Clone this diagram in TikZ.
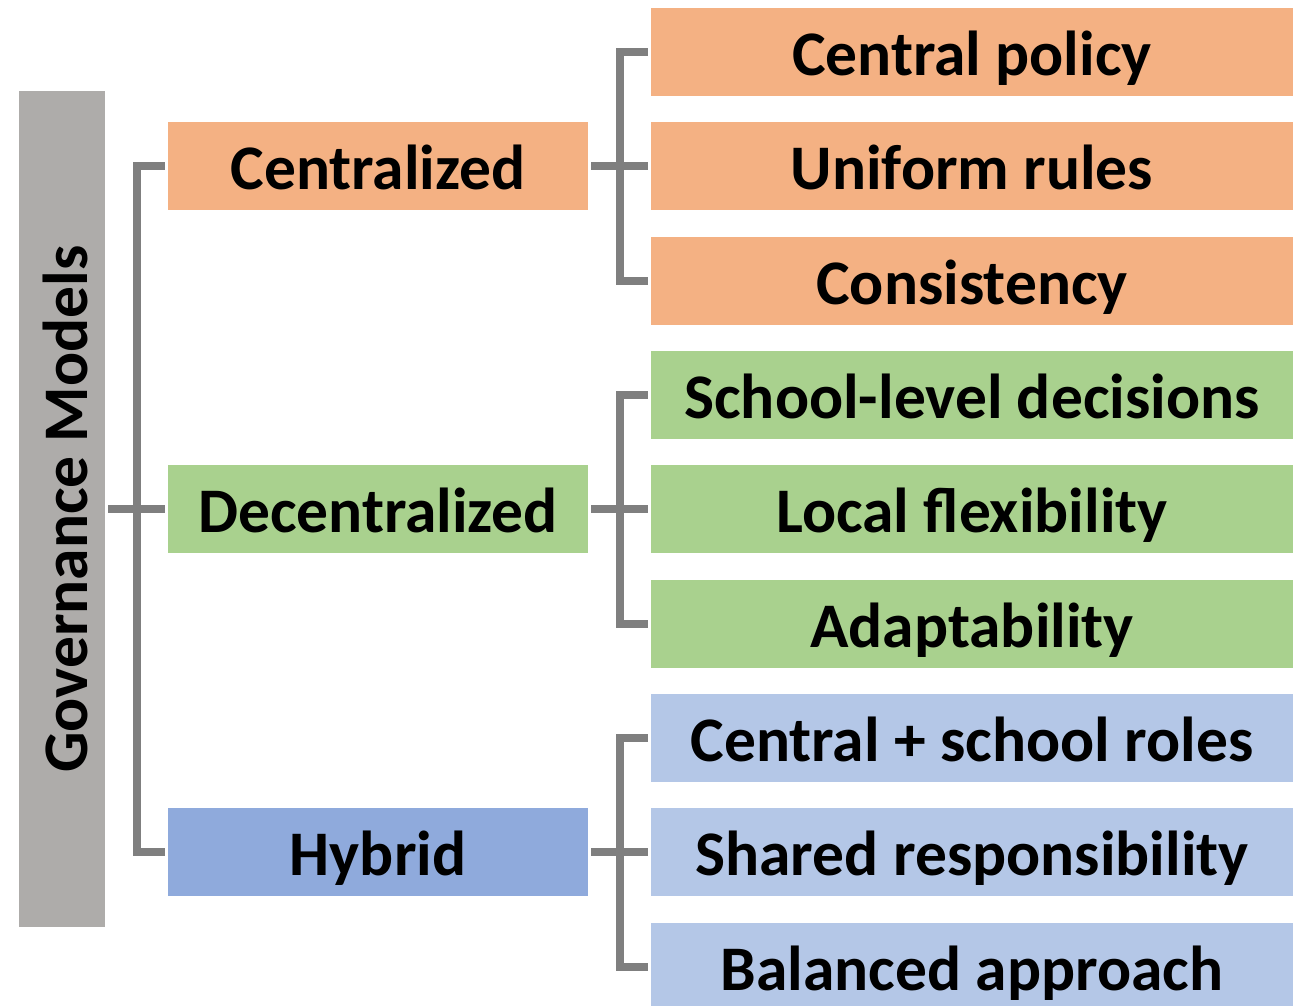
\documentclass[tikz,border=0pt]{standalone}
\usepackage{fontspec}
\setmainfont{Carlito}
\definecolor{rootgray}{HTML}{AEACAA}
\definecolor{orangebox}{HTML}{F4B183}
\definecolor{greenbox}{HTML}{A9D18E}
\definecolor{bluebox}{HTML}{B4C7E7}
\definecolor{bluemid}{HTML}{8FAADC}
\definecolor{conngray}{HTML}{7F7F7F}
\begin{document}
\begin{tikzpicture}[x=1pt,y=1pt,
  every node/.style={inner sep=0pt,font=\fontsize{63.5}{72}\selectfont\bfseries,text=black},
  midbox/.style={minimum width=420pt,minimum height=88pt,text height=47pt,text depth=0pt},
  leafbox/.style={minimum width=642pt,minimum height=88pt,text height=47pt,text depth=0pt},
  conn/.style={draw=conngray,line width=7.5pt}]
\useasboundingbox (0,0) rectangle (1294,-1005);
% root
\node[fill=rootgray,minimum width=86pt,minimum height=836pt] (root) at (62,-509) {};
\node[rotate=90,text height=50pt,text depth=0pt] (roottext) at (root.center) {Governance Models};
% mid boxes
\node[midbox,fill=orangebox] (cen) at (378,-166) {Centralized};
\node[midbox,fill=greenbox] (dec) at (378,-509) {Decentralized};
\node[midbox,fill=bluemid] (hyb) at (378,-852) {Hybrid};
% leaves
\node[leafbox,fill=orangebox] (l1) at (972,-52) {Central policy};
\node[leafbox,fill=orangebox] (l2) at (972,-166) {Uniform rules};
\node[leafbox,fill=orangebox] (l3) at (972,-281) {Consistency};
\node[leafbox,fill=greenbox] (l4) at (972,-395) {School-level decisions};
\node[leafbox,fill=greenbox] (l5) at (972,-509) {Local flexibility};
\node[leafbox,fill=greenbox] (l6) at (972,-624) {Adaptability};
\node[leafbox,fill=bluebox] (l7) at (972,-738) {Central + school roles};
\node[leafbox,fill=bluebox] (l8) at (972,-852) {Shared responsibility};
\node[leafbox,fill=bluebox] (l9) at (972,-967) {Balanced approach};
% left bracket
\draw[conn] ([xshift=-3pt]cen.west) -- ++(-28,0) |- ([xshift=-3pt]hyb.west);
\draw[conn] ([xshift=3pt]root.east |- dec.west) -- ([xshift=-3pt]dec.west);
% right brackets
\draw[conn] ([xshift=3pt]cen.east) -- ([xshift=-3pt]l2.west);
\draw[conn] ([xshift=-3pt]l1.west) -- ++(-28,0) |- ([xshift=-3pt]l3.west);
\draw[conn] ([xshift=3pt]dec.east) -- ([xshift=-3pt]l5.west);
\draw[conn] ([xshift=-3pt]l4.west) -- ++(-28,0) |- ([xshift=-3pt]l6.west);
\draw[conn] ([xshift=3pt]hyb.east) -- ([xshift=-3pt]l8.west);
\draw[conn] ([xshift=-3pt]l7.west) -- ++(-28,0) |- ([xshift=-3pt]l9.west);
\end{tikzpicture}
\end{document}
